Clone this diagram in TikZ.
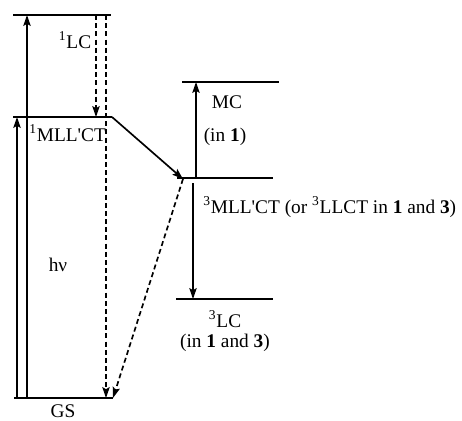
\documentclass[tikz,border=0pt]{standalone}
\usepackage{fontspec}
\setmainfont{Liberation Serif}
\usetikzlibrary{arrows.meta}

\begin{document}
\begin{tikzpicture}[x=0.6pt,y=-0.6pt,
    level/.style={line width=1.1pt},
    arr/.style={-{Stealth[length=6.5pt,width=4.4pt,inset=1.2pt]},line width=1pt},
    darr/.style={arr,dash pattern=on 3pt off 1.9pt},
    lbl/.style={font=\fontsize{11.6}{13}\selectfont,inner sep=0pt}]
    \useasboundingbox (0,0) rectangle (462,421);
    % energy levels
    \draw[level] (13,15) coordinate (lcL) -- (111,15) coordinate (lcR);
    \draw[level] (13,117) coordinate (mlL) -- (112,117) coordinate (mlR);
    \draw[level] (182,82) coordinate (mcL) -- (279,82) coordinate (mcR);
    \draw[level] (177,178) coordinate (tmL) -- (273,178) coordinate (tmR);
    \draw[level] (176,299) coordinate (tlL) -- (273,299) coordinate (tlR);
    \draw[level] (14,398) coordinate (gsL) -- (113,398) coordinate (gsR);
    % end points of the transitions
    \coordinate (gsA) at (17,398);
    \coordinate (mlA) at (17,117);
    \coordinate (gsB) at (27,398);
    \coordinate (lcB) at (27,15);
    \coordinate (lcC) at (96,15);
    \coordinate (mlC) at (96,117);
    \coordinate (lcD) at (106,15);
    \coordinate (gsD) at (106,398);
    \coordinate (tmE) at (183,179);
    \coordinate (tmF) at (196,178);
    \coordinate (mcF) at (196,82);
    \coordinate (tmG) at (193,183);
    \coordinate (tlG) at (193,299);
    % transitions
    \draw[arr] (gsA) -- (mlA);
    \draw[arr] (gsB) -- (lcB);
    \draw[darr] (lcC) -- (mlC);
    \draw[darr] (lcD) -- (gsD);
    \draw[arr] (mlR) -- (tmE);
    \draw[darr] (tmE) -- (gsR);
    \draw[arr] (tmF) -- (mcF);
    \draw[arr] (tmG) -- (tlG);
    % labels
    \node[lbl] (lcT) at (75,40) {\textsuperscript{1}LC};
    \node[lbl,anchor=west] (mlT) at (29,133) {\textsuperscript{1}MLL\textquotesingle CT};
    \node[lbl] (mcT) at (227,102) {MC};
    \node[lbl] (mcIn) at (225,137) {(in \textbf{1})};
    \node[lbl,anchor=west] (tmT) at (203,207) {\textsuperscript{3}MLL\textquotesingle CT (or \textsuperscript{3}LLCT in \textbf{1} and \textbf{3})};
    \node[lbl,anchor=base] (tlT) at (225,327) {\textsuperscript{3}LC};
    \node[lbl,anchor=base] (tlIn) at (225,347) {(in \textbf{1} and \textbf{3})};
    \node[lbl] (hvT) at (58,265) {hν};
    \node[lbl] (gsT) at (63,411) {GS};
\end{tikzpicture}
\end{document}
